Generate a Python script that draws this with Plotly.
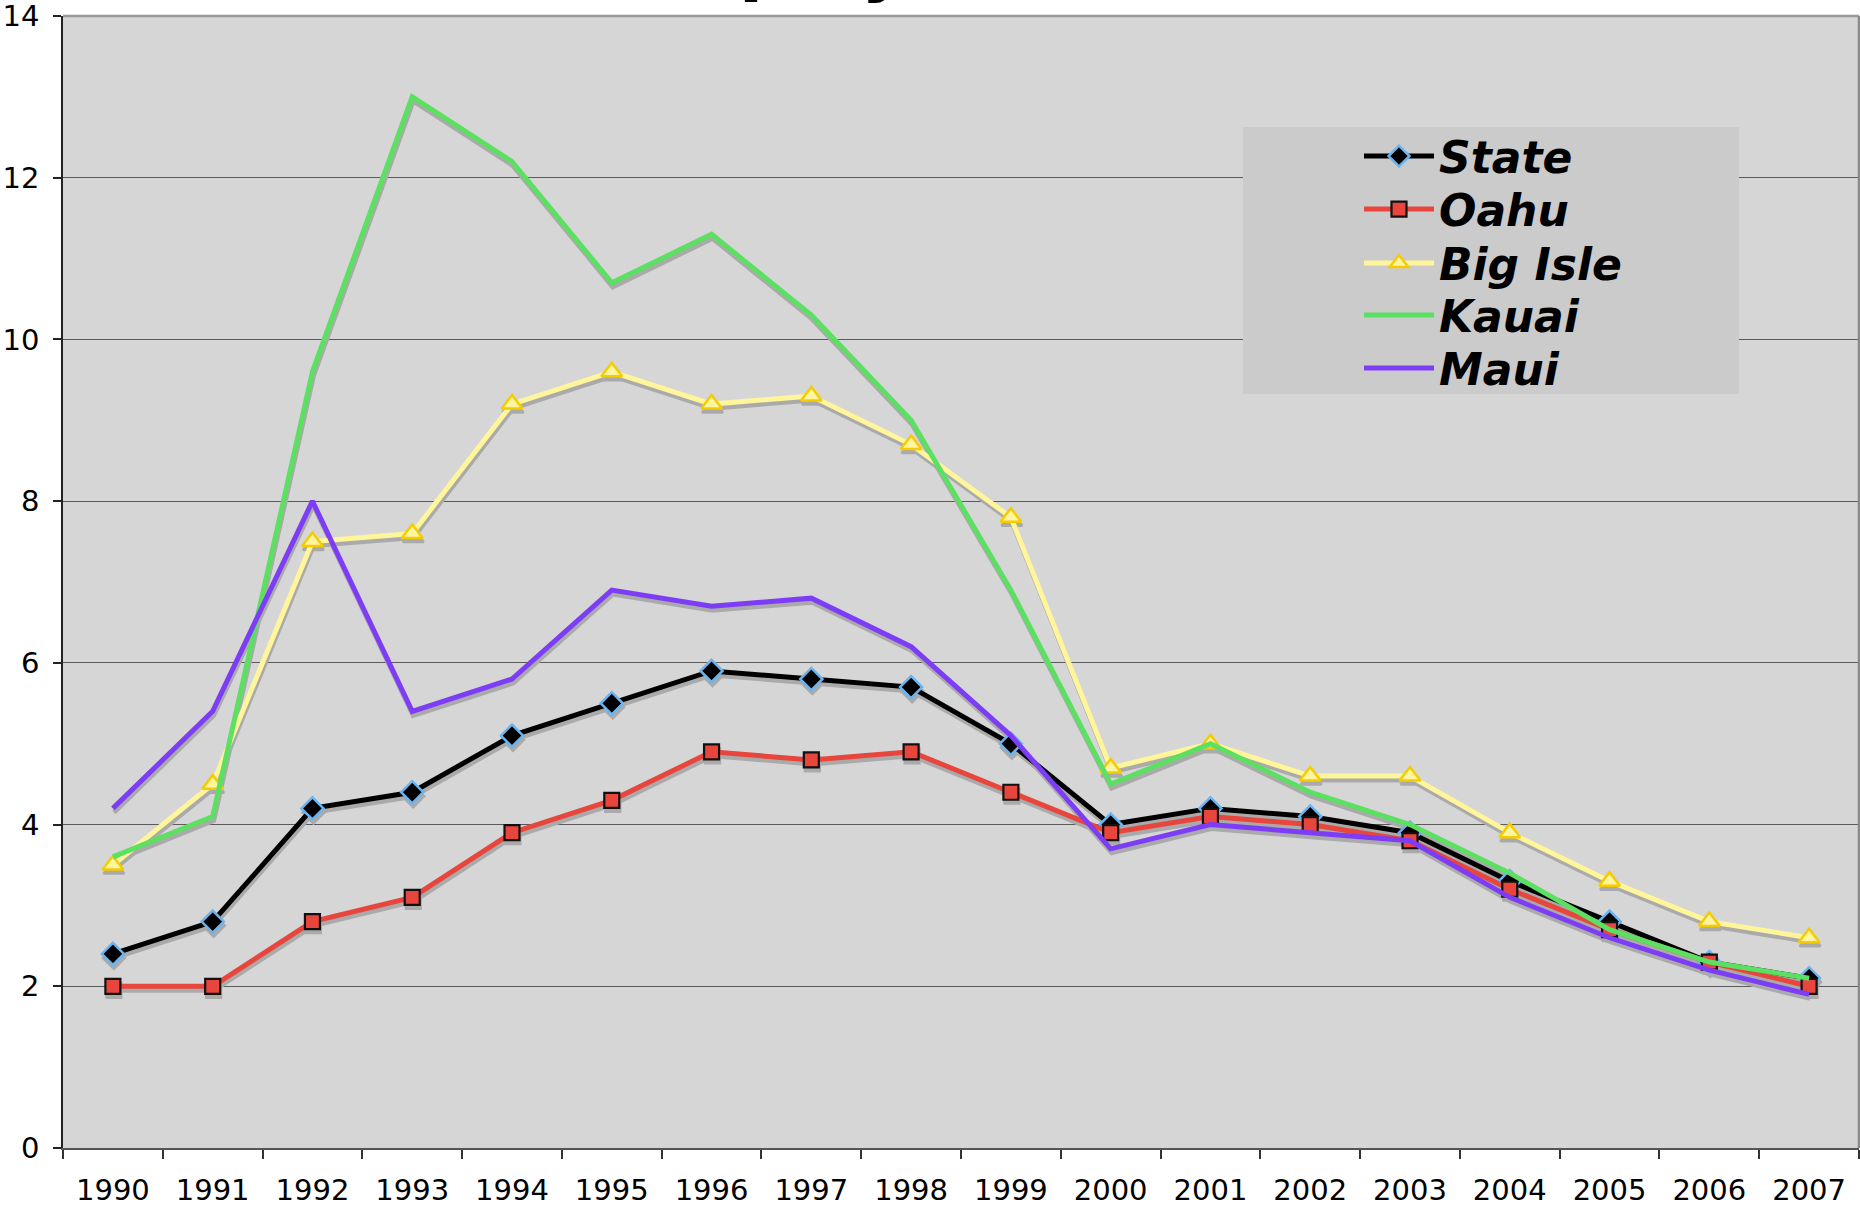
import plotly.graph_objects as go

years = [str(y) for y in range(1990, 2008)]
state = [2.4, 2.8, 4.2, 4.4, 5.1, 5.5, 5.9, 5.8, 5.7, 5.0, 4.0, 4.2, 4.1, 3.9, 3.3, 2.8, 2.3, 2.1]
oahu = [2.0, 2.0, 2.8, 3.1, 3.9, 4.3, 4.9, 4.8, 4.9, 4.4, 3.9, 4.1, 4.0, 3.8, 3.2, 2.7, 2.3, 2.0]
big_isle = [3.5, 4.5, 7.5, 7.6, 9.2, 9.6, 9.2, 9.3, 8.7, 7.8, 4.7, 5.0, 4.6, 4.6, 3.9, 3.3, 2.8, 2.6]
kauai = [3.6, 4.1, 9.6, 13.0, 12.2, 10.7, 11.3, 10.3, 9.0, 6.9, 4.5, 5.0, 4.4, 4.0, 3.4, 2.7, 2.3, 2.1]
maui = [4.2, 5.4, 8.0, 5.4, 5.8, 6.9, 6.7, 6.8, 6.2, 5.1, 3.7, 4.0, 3.9, 3.8, 3.1, 2.6, 2.2, 1.9]
y_ticks = [0, 2, 4, 6, 8, 10, 12, 14]

series = [
    dict(name="State", y=state, color="#000000", marker=dict(symbol="diamond", size=17, color="#000000", line=dict(color="#6ab4f0", width=2.5))),
    dict(name="Oahu", y=oahu, color="#e8453c", marker=dict(symbol="square", size=15, color="#e8453c", line=dict(color="#111111", width=2.2))),
    dict(name="Big Isle", y=big_isle, color="#fff59a", marker=dict(symbol="triangle-up", size=18, color="#fff4a0", line=dict(color="#f5cc00", width=2.5))),
    dict(name="Kauai", y=kauai, color="#5be062", marker=None),
    dict(name="Maui", y=maui, color="#7d3cf5", marker=None),
]

FW, FH = 1860, 1209
ML, MR, MT, MB = 63, 1, 16, 61
PW = FW - ML - MR
PH = FH - MT - MB
NCAT = len(years)
XR = [-0.5, NCAT - 0.5]
YR = [0, 14]
dxu = 1.0 / PW * (XR[1] - XR[0])
dyu = 4.0 / PH * (YR[1] - YR[0])

def px_x(p):
    return (p - ML) / PW

def px_y(p):
    return (FH - MB - p) / PH

LINE_W = 5
fig = go.Figure()
shadow = "#aaaaaa"
for s in series:
    mk = s["marker"]
    fig.add_trace(go.Scatter(
        x=years, y=s["y"], mode="lines+markers" if mk else "lines",
        line=dict(color=shadow, width=LINE_W),
        marker=dict(symbol=mk["symbol"], size=mk["size"], color=shadow, line=dict(color=shadow, width=mk["line"]["width"])) if mk else None,
        xaxis="x", yaxis="y", showlegend=False, hoverinfo="skip"))

legend_tops = [121, 174, 228, 280, 333]
legend_names = ["legend", "legend2", "legend3", "legend4", "legend5"]
for s, lg in zip(series, legend_names):
    mk = s["marker"]
    fig.add_trace(go.Scatter(
        x=years, y=s["y"], name=s["name"], mode="lines+markers" if mk else "lines",
        line=dict(color=s["color"], width=LINE_W),
        marker=mk, xaxis="x2", yaxis="y2", legend=lg, showlegend=True))

axis_font = dict(family="DejaVu Sans", size=29, color="#000000")
legend_font = dict(family="DejaVu Sans", size=44, color="#000000", weight="bold", style="italic")
legends = {}
for lg, top in zip(legend_names, legend_tops):
    legends[lg] = dict(x=px_x(1359), y=px_y(top), xanchor="left", yanchor="top", bgcolor="rgba(0,0,0,0)",
                       font=legend_font, itemwidth=70)

fig.update_layout(
    width=FW, height=FH,
    margin=dict(l=ML, r=MR, t=MT, b=MB, pad=0, autoexpand=False),
    paper_bgcolor="#ffffff", plot_bgcolor="#d6d6d6",
    xaxis=dict(type="category", categoryorder="array", categoryarray=years, range=[XR[0] - dxu, XR[1] - dxu],
               visible=False, automargin=False),
    yaxis=dict(range=[YR[0] + dyu, YR[1] + dyu], visible=False, automargin=False),
    xaxis2=dict(type="category", categoryorder="array", categoryarray=years, range=XR, overlaying="x",
                tickson="boundaries", ticks="outside", ticklen=9, tickwidth=1.5, tickcolor="#333333",
                showline=True, linecolor="#555555", linewidth=2, showgrid=False, zeroline=False,
                tickfont=axis_font, ticklabelstandoff=15, side="bottom", automargin=False),
    yaxis2=dict(range=YR, tickvals=y_ticks, overlaying="y", side="left", ticks="outside", ticklen=8, tickwidth=1.5,
                tickcolor="#222222", showline=True, linecolor="#222222", linewidth=1.5, showgrid=True,
                gridcolor="#5a5a5a", gridwidth=1.3, zeroline=False, tickfont=axis_font, ticklabelstandoff=8,
                ticklabeloverflow="allow", automargin=False),
    shapes=[
        dict(type="rect", xref="paper", yref="paper", x0=px_x(1243), x1=px_x(1739), y0=px_y(394), y1=px_y(127),
             fillcolor="#cbcbcb", line=dict(width=0), layer="above"),
        dict(type="line", xref="paper", yref="paper", x0=0, x1=1, y0=1, y1=1, line=dict(color="#999999", width=2.5)),
        dict(type="line", xref="paper", yref="paper", x0=1, x1=1, y0=0, y1=1, line=dict(color="#8a8a8a", width=2.5)),
    ],
    annotations=[
        dict(text="Unemployment Rate", xref="paper", yref="paper", x=px_x(510), y=1, xanchor="left", yanchor="bottom",
             yshift=9, showarrow=False, font=dict(family="DejaVu Sans", size=70, color="#000000", weight="bold")),
    ],
    hovermode=False,
    **legends,
)

fig.write_html("out.html", post_script="document.body.style.margin='0';", config={"displayModeBar": False})
